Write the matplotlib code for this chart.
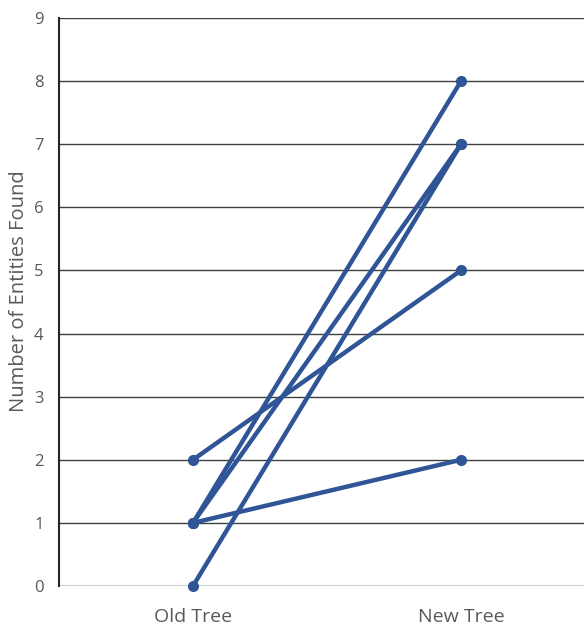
import matplotlib
matplotlib.use("Agg")
import matplotlib.pyplot as plt

categories = ["Old Tree", "New Tree"]
old_tree = [2, 1, 1, 0, 1]
new_tree = [5, 8, 7, 7, 2]
y_ticks = list(range(0, 10))

plt.rcParams['font.family'] = ['Open Sans', 'DejaVu Sans']
fig = plt.figure(figsize=(5.84, 6.25), dpi=100)
ax = fig.add_axes([0.101, 0.0624, 0.899, 0.9088])

color = '#2F5597'
x = [0, 1]
for o, n in zip(old_tree, new_tree):
    ax.plot(x, [o, n], color=color, lw=3.2, marker='o', ms=7, solid_capstyle='round', zorder=3, clip_on=False)

ax.set_xlim(-0.5, 1.459)
ax.set_ylim(0, 9)
ax.set_yticks(y_ticks)
ax.set_xticks(x)
ax.set_xticklabels(categories, fontsize=14, color='#595959')
ax.tick_params(axis='y', labelsize=12, colors='#595959', length=0, pad=11)
ax.tick_params(axis='x', length=0, pad=16)
for y in y_ticks[1:]:
    ax.axhline(y, color='#404040', lw=1.0, zorder=1)
ax.axhline(0, color='#d0d0d0', lw=1.5, zorder=1)
for s in ['top', 'right', 'bottom']:
    ax.spines[s].set_visible(False)
ax.spines['left'].set_color('#262626')
ax.spines['left'].set_linewidth(1.5)
fig.text(19 / 584, 1 - 291 / 625, 'Number of Entities Found', fontsize=14.5, color='#595959',
         rotation=90, ha='center', va='center')
fig.savefig('out.png', dpi=100)
